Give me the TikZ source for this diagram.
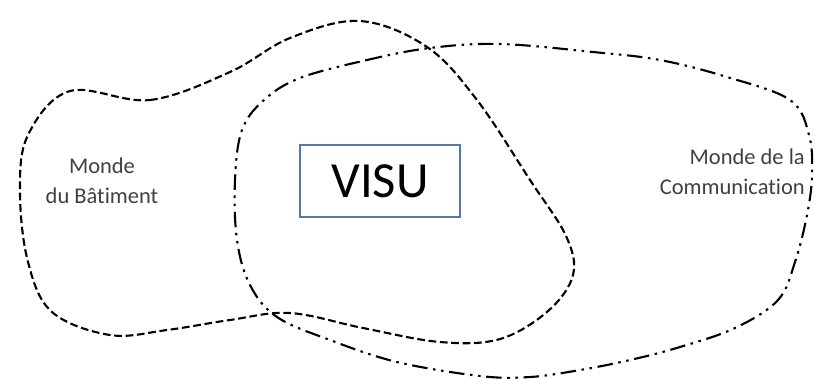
\documentclass[tikz,border=0pt]{standalone}
\usepackage{fontspec}
\setmainfont{Carlito}[Ligatures=NoCommon]
\usepackage{xcolor}
\usetikzlibrary{calc}
\usetikzlibrary{positioning}

\definecolor{boxblue}{RGB}{88,120,168}
\definecolor{labelgray}{RGB}{64,64,64}

\tikzset{
  batline/.style={line width=1.5pt, dash pattern=on 5.5pt off 2.6pt},
  comline/.style={line width=1.5pt, dash pattern=on 11pt off 4pt on 1.8pt off 4pt on 1.8pt off 4pt},
  world/.style={font=\fontsize{16}{21}\selectfont, text=labelgray, inner sep=0pt}
}

\begin{document}
\begin{tikzpicture}[x=0.025cm, y=-0.025cm]
\useasboundingbox (0,0) rectangle (815,378);

% monde du batiment
\draw[batline] plot[smooth cycle, tension=0.6] coordinates {
  (70,91) (150,100) (230,72) (290,38) (360,21) (427,47) (477,100)
  (530,180) (566,236) (573,275) (548,311) (500,339) (440,342)
  (363,328) (290,313) (230,320) (167,330) (110,335) (52,312)
  (28,262) (20,192) (28,135)};

% monde de la communication
\draw[comline] plot[smooth cycle, tension=0.6] coordinates {
  (300,78) (367,60) (430,48) (500,44) (593,52) (660,60) (727,77)
  (790,100) (809,135) (812,175) (807,215) (795,262) (778,300)
  (735,328) (680,347) (630,360) (580,370) (530,377) (480,376)
  (397,362) (330,340) (277,317) (250,285) (237,240) (235,180)
  (242,130) (264,100)};

\node[draw=boxblue, line width=1pt, inner sep=0pt,
  minimum width=4cm, minimum height=1.8cm, font=\fontsize{36}{40}\selectfont]
  (visu) at (380,181) {VISU};

\node[world, align=center] (batiment) at (102,181) {Monde\\du Bâtiment};
\node[world, align=right, anchor=east] (comm) at (805,172) {Monde de la\\Communication};

\end{tikzpicture}
\end{document}
